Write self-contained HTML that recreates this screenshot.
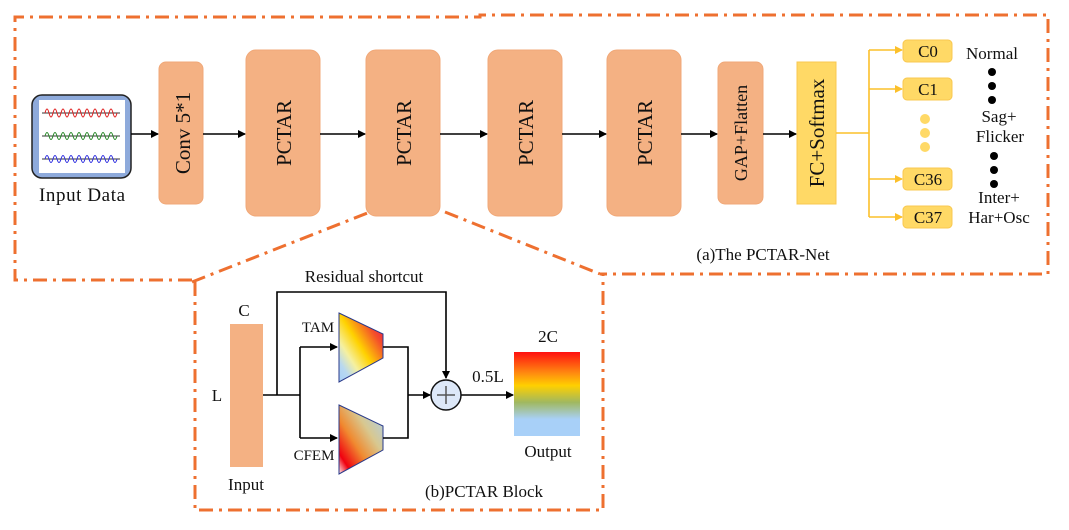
<!DOCTYPE html>
<html><head><meta charset="utf-8"><style>
html,body{margin:0;padding:0;background:#fff;width:1069px;height:530px;overflow:hidden}
svg text{font-family:"Liberation Serif",serif;fill:#111}
</style></head><body>
<svg width="1069" height="530" viewBox="0 0 1069 530" xmlns="http://www.w3.org/2000/svg">
<defs>
<marker id="ah" markerWidth="8" markerHeight="8" refX="7" refY="4" orient="auto" markerUnits="userSpaceOnUse"><path d="M0,0 L8,4 L0,8 z" fill="#000"/></marker>
<marker id="ay" markerWidth="8" markerHeight="8" refX="7" refY="4" orient="auto" markerUnits="userSpaceOnUse"><path d="M0,0 L8,4 L0,8 z" fill="#fcc02a"/></marker>
<linearGradient id="gt" x1="1" y1="0" x2="0" y2="1"><stop offset="0" stop-color="#e8005a"/><stop offset="0.25" stop-color="#f4502a"/><stop offset="0.5" stop-color="#ffd200"/><stop offset="0.7" stop-color="#f5f0a0"/><stop offset="0.85" stop-color="#b8d8f0"/><stop offset="1" stop-color="#a8d0f8"/></linearGradient>
<linearGradient id="gc" x1="1" y1="0" x2="0" y2="1"><stop offset="0" stop-color="#a8d0f8"/><stop offset="0.35" stop-color="#d8c890"/><stop offset="0.6" stop-color="#f08a30"/><stop offset="0.85" stop-color="#f00010"/><stop offset="1" stop-color="#fff0f0"/></linearGradient>
<linearGradient id="go" x1="0" y1="0" x2="0" y2="1"><stop offset="0" stop-color="#ff1010"/><stop offset="0.25" stop-color="#ff8a10"/><stop offset="0.4" stop-color="#ffd000"/><stop offset="0.6" stop-color="#a0b860"/><stop offset="0.8" stop-color="#a8d0f8"/><stop offset="1" stop-color="#a8d0f8"/></linearGradient>
</defs>
<g fill="none" stroke="#ee7030" stroke-width="3" stroke-dasharray="14,6,3,6">
<path d="M192,280 L15,280 L15,17 L480,17 L480,15 L1048,15 L1048,274 L600,274"/>
<path d="M192,282 L370,212"/>
<path d="M445,212 L600,274"/>
<path d="M195,282 L195,510 L603,510 L603,274"/>
</g>
<rect x="32" y="95" width="99" height="83" rx="10" fill="#8eaadb" stroke="#222" stroke-width="1.5"/>
<rect x="39" y="100" width="86" height="73" fill="#fff"/>
<g fill="none" stroke-width="1">
<line x1="42" y1="113" x2="120" y2="113" stroke="#333"/>
<path d="M45,113 q2,-8 4,0 t4,0 t4,0 t4,0 t4,0 t4,0 t4,0 t4,0 t4,0 t4,0 t4,0 t4,0 t4,0 t4,0 t4,0 t4,0 t4,0 t4,0" stroke="#e02020"/>
<line x1="42" y1="136" x2="120" y2="136" stroke="#333"/>
<path d="M45,136 q2,-7 4,0 t4,0 t4,0 t4,0 t4,0 t4,0 t4,0 t4,0 t4,0 t4,0 t4,0 t4,0 t4,0 t4,0 t4,0 t4,0 t4,0 t4,0" stroke="#2a8a2a"/>
<line x1="42" y1="159" x2="120" y2="159" stroke="#333"/>
<path d="M45,159 q2,-7 4,0 t4,0 t4,0 t4,0 t4,0 t4,0 t4,0 t4,0 t4,0 t4,0 t4,0 t4,0 t4,0 t4,0 t4,0 t4,0 t4,0 t4,0" stroke="#3030e0"/>
</g>
<text x="82" y="201" font-size="19" text-anchor="middle" textLength="86">Input Data</text>
<g fill="#f4b183" stroke="#f0a878" stroke-width="1">
<rect x="159" y="62" width="44" height="142" rx="7"/>
<rect x="246" y="50" width="74" height="166" rx="10"/>
<rect x="366" y="50" width="74" height="166" rx="10"/>
<rect x="488" y="50" width="74" height="166" rx="10"/>
<rect x="607" y="50" width="74" height="166" rx="10"/>
<rect x="718" y="62" width="45" height="142" rx="7"/>
<rect x="230" y="324" width="33" height="143" stroke="none"/>
</g>
<rect x="797" y="62" width="39" height="142" fill="#ffd966" stroke="#f8c850"/>
<g font-size="21" text-anchor="middle">
<text transform="translate(190,133) rotate(-90)">Conv 5*1</text>
<text transform="translate(291,133) rotate(-90)">PCTAR</text>
<text transform="translate(411,133) rotate(-90)">PCTAR</text>
<text transform="translate(533,133) rotate(-90)">PCTAR</text>
<text transform="translate(652,133) rotate(-90)">PCTAR</text>
<text transform="translate(747,133) rotate(-90)" font-size="18">GAP+Flatten</text>
<text transform="translate(824,133) rotate(-90)">FC+Softmax</text>
</g>
<g stroke="#000" stroke-width="1.6" marker-end="url(#ah)">
<line x1="131" y1="134" x2="158" y2="134"/>
<line x1="203" y1="134" x2="245" y2="134"/>
<line x1="320" y1="134" x2="365" y2="134"/>
<line x1="440" y1="134" x2="487" y2="134"/>
<line x1="562" y1="134" x2="606" y2="134"/>
<line x1="681" y1="134" x2="717" y2="134"/>
<line x1="763" y1="134" x2="796" y2="134"/>
</g>
<g stroke="#fcc02a" stroke-width="1.6" fill="none">
<line x1="836" y1="133" x2="869" y2="133"/>
<line x1="869" y1="50" x2="869" y2="217"/>
<g marker-end="url(#ay)">
<line x1="869" y1="50" x2="902" y2="50"/>
<line x1="869" y1="89" x2="902" y2="89"/>
<line x1="869" y1="179" x2="902" y2="179"/>
<line x1="869" y1="217" x2="902" y2="217"/>
</g>
</g>
<g fill="#ffd966" stroke="#f8c850">
<rect x="903" y="40" width="49" height="22" rx="4"/>
<rect x="903" y="78" width="49" height="22" rx="4"/>
<rect x="903" y="168" width="49" height="22" rx="4"/>
<rect x="903" y="206" width="49" height="22" rx="4"/>
</g>
<g fill="#ffd966"><circle cx="925" cy="119" r="5"/><circle cx="925" cy="133" r="5"/><circle cx="925" cy="147" r="5"/></g>
<g font-size="17" text-anchor="middle">
<text x="928" y="57">C0</text><text x="928" y="95">C1</text><text x="928" y="185">C36</text><text x="928" y="223">C37</text>
<text x="992" y="59">Normal</text><text x="999" y="122">Sag+</text><text x="1000" y="142">Flicker</text>
<text x="999" y="203">Inter+</text><text x="999" y="223">Har+Osc</text>
<text x="763" y="260">(a)The PCTAR-Net</text>
</g>
<g fill="#000"><circle cx="992" cy="72" r="4"/><circle cx="992" cy="86" r="4"/><circle cx="992" cy="100" r="4"/>
<circle cx="994" cy="156" r="4"/><circle cx="994" cy="170" r="4"/><circle cx="994" cy="184" r="4"/></g>
<g font-size="17" text-anchor="middle">
<text x="364" y="282">Residual shortcut</text>
<text x="244" y="316">C</text>
<text x="217" y="401">L</text>
<text x="246" y="490">Input</text>
<text x="318" y="332" font-size="15">TAM</text>
<text x="314" y="460" font-size="15">CFEM</text>
<text x="548" y="342">2C</text>
<text x="488" y="382">0.5L</text>
<text x="548" y="457">Output</text>
<text x="484" y="497">(b)PCTAR Block</text>
</g>
<polygon points="339,313 383,334 383,358 339,382" fill="url(#gt)" stroke="#2a3a8a" stroke-width="1"/>
<polygon points="339,405 383,426 383,450 339,474" fill="url(#gc)" stroke="#2a3a8a" stroke-width="1"/>
<rect x="514" y="352" width="66" height="84" fill="url(#go)"/>
<g stroke="#000" stroke-width="1.6" fill="none">
<polyline points="263,395 300,395"/>
<polyline points="277,395 277,292 446,292 446,378" marker-end="url(#ah)"/>
<line x1="300" y1="347" x2="300" y2="438"/>
<line x1="300" y1="347" x2="337" y2="347" marker-end="url(#ah)"/>
<line x1="300" y1="438" x2="337" y2="438" marker-end="url(#ah)"/>
<polyline points="383,347 408,347 408,438 383,438"/>
<line x1="408" y1="395" x2="430" y2="395" marker-end="url(#ah)"/>
<line x1="461" y1="395" x2="513" y2="395" marker-end="url(#ah)"/>
</g>
<circle cx="446" cy="395" r="15" fill="#dde8f8" stroke="#111" stroke-width="1.5"/>
<g stroke="#555" stroke-width="1.5"><line x1="437" y1="395" x2="455" y2="395"/><line x1="446" y1="386" x2="446" y2="404"/></g>
</svg>
</body></html>
